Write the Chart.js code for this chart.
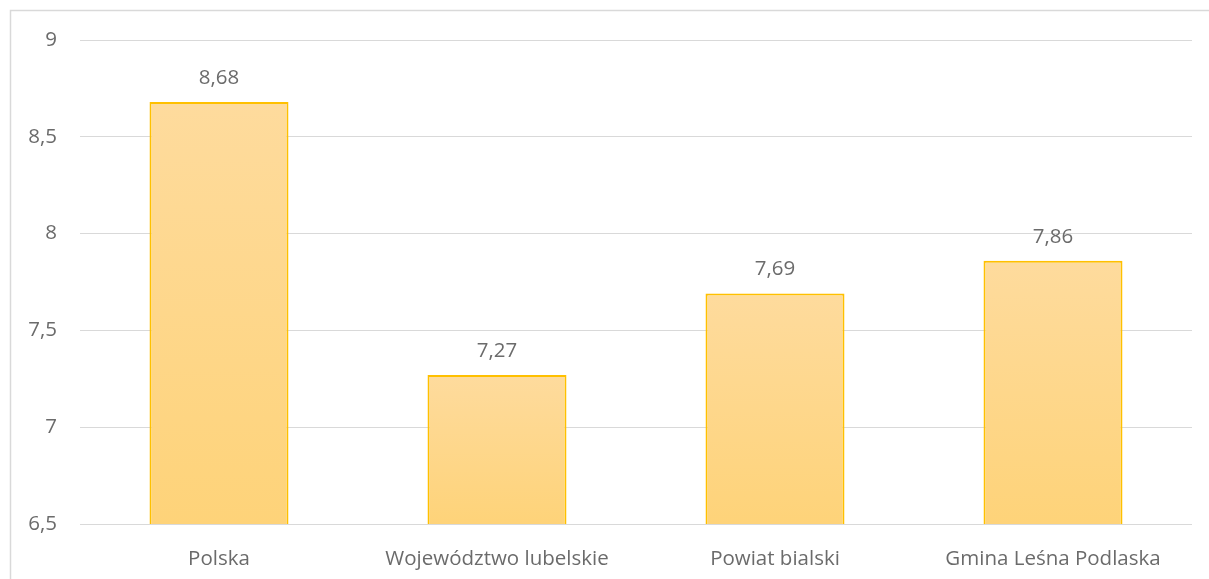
<!DOCTYPE html>
<html>
<head>
<meta charset="utf-8">
<script src="https://cdn.jsdelivr.net/npm/chart.js@4"></script>
<style>
  html, body { margin: 0; padding: 0; background: #fff; }
  #wrap { width: 1209px; height: 579px; position: relative; }
</style>
</head>
<body>
<div id="wrap"><canvas id="barChart"></canvas></div>
<script>
// Categories and values
const categories = ['Polska', 'Województwo lubelskie', 'Powiat bialski', 'Gmina Leśna Podlaska'];
const values = [8.68, 7.27, 7.69, 7.86];
const yMin = 6.5;
const yMax = 9;
const yStep = 0.5;

const FONT = '"Open Sans", sans-serif';
const FONT_SIZE = 20.5;
const TEXT_COLOR = '#6b6b6b';

// Polish decimal comma
function fmt(v) {
    return String(v).replace('.', ',');
}

// Vertical gradient per bar, light at top, deeper at the base
function barGradient(context) {
    const chart = context.chart;
    const y = chart.scales.y;
    if (!chart.chartArea || !y) return '#fdd88c';
    const top = y.getPixelForValue(context.raw);
    const bottom = y.getPixelForValue(yMin);
    const g = chart.ctx.createLinearGradient(0, top, 0, bottom);
    g.addColorStop(0, '#fedb9d');
    g.addColorStop(1, '#fed379');
    return g;
}

// Light grey frame around the chart like the office export
const framePlugin = {
    id: 'frame',
    beforeDraw(chart) {
        const ctx = chart.ctx;
        ctx.save();
        ctx.strokeStyle = '#d9d9d9';
        ctx.lineWidth = 1.5;
        ctx.strokeRect(10.5, 10.5, chart.width + 20, chart.height + 20);
        ctx.restore();
    }
};

// Value labels above each bar
const valueLabels = {
    id: 'valueLabels',
    afterDatasetsDraw(chart) {
        const ctx = chart.ctx;
        const meta = chart.getDatasetMeta(0);
        ctx.save();
        ctx.font = FONT_SIZE + 'px ' + FONT;
        ctx.fillStyle = TEXT_COLOR;
        ctx.textAlign = 'center';
        ctx.textBaseline = 'middle';
        meta.data.forEach((bar, i) => {
            ctx.fillText(fmt(values[i]), bar.x, bar.y - 24);
        });
        ctx.restore();
    }
};

function createBarChart() {
    const ctx = document.getElementById('barChart').getContext('2d');
    new Chart(ctx, {
        type: 'bar',
        data: {
            labels: categories,
            datasets: [{
                data: values,
                backgroundColor: barGradient,
                borderColor: '#ffc000',
                borderWidth: 2,
                borderSkipped: 'bottom',
                categoryPercentage: 1,
                barPercentage: 0.5
            }]
        },
        options: {
            responsive: true,
            maintainAspectRatio: false,
            animation: false,
            layout: { padding: { top: 40, right: 17, bottom: 0, left: 0 } },
            plugins: {
                legend: { display: false },
                tooltip: { enabled: false }
            },
            scales: {
                x: {
                    grid: { display: false },
                    border: { display: false },
                    ticks: {
                        color: TEXT_COLOR,
                        font: { family: FONT, size: FONT_SIZE },
                        padding: 15,
                        maxRotation: 0
                    },
                    afterFit(scale) { scale.height = 55; }
                },
                y: {
                    min: yMin,
                    max: yMax,
                    grid: { color: '#d9d9d9', lineWidth: 1, drawTicks: false },
                    border: { display: false },
                    ticks: {
                        stepSize: yStep,
                        color: TEXT_COLOR,
                        font: { family: FONT, size: FONT_SIZE },
                        padding: 23,
                        callback: v => fmt(v)
                    },
                    afterFit(scale) { scale.width = 80; }
                }
            }
        },
        plugins: [framePlugin, valueLabels]
    });
}

document.addEventListener('DOMContentLoaded', createBarChart);
</script>
</body>
</html>
